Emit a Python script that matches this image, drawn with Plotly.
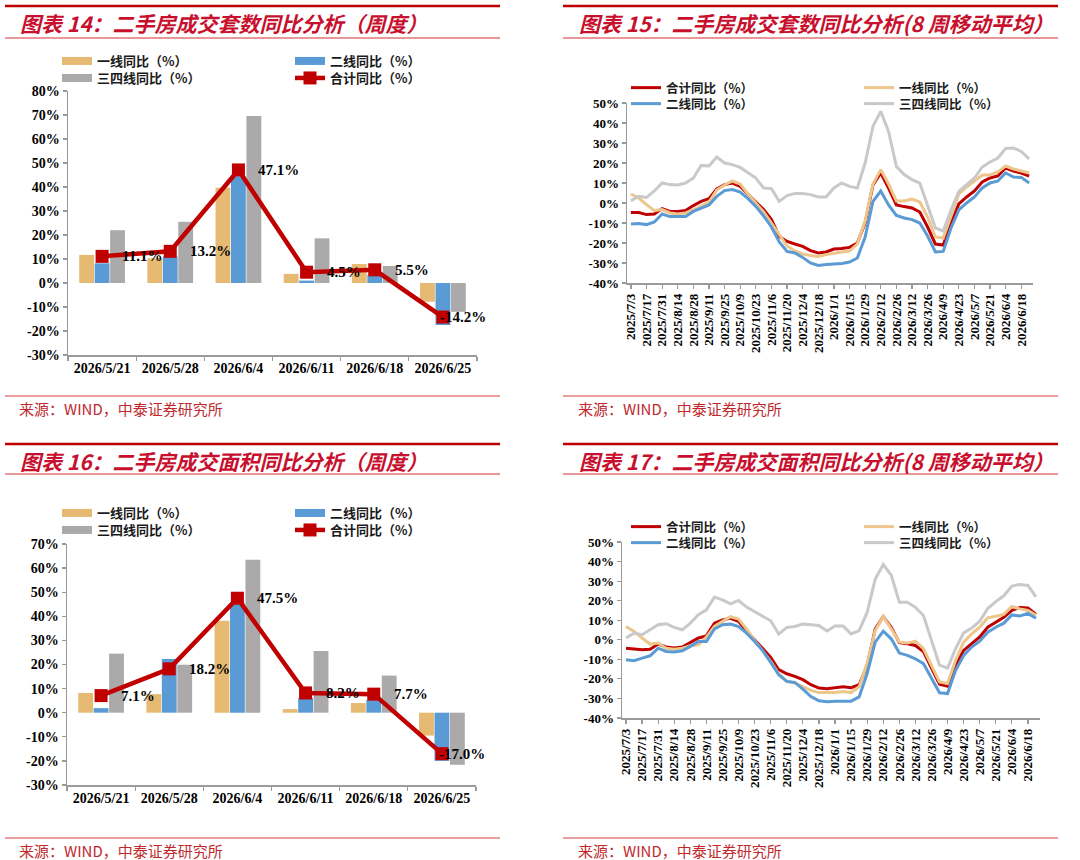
import plotly.graph_objects as go
import pandas as pd

W, H = 1080, 860

# ---------------- data ----------------
cats = ['2026/5/21', '2026/5/28', '2026/6/4', '2026/6/11', '2026/6/18', '2026/6/25']

# 图表14 二手房成交套数同比（周度）
p14_tier1 = [11.7, 10.3, 39.7, 3.8, 7.9, -7.8]
p14_tier2 = [8.2, 11.0, 44.5, 1.0, 3.3, -17.5]
p14_tier34 = [22.0, 25.5, 69.6, 18.6, 7.1, -12.0]
p14_total = [11.1, 13.2, 47.1, 4.5, 5.5, -14.2]

# 图表16 二手房成交面积同比（周度）
p16_tier1 = [8.2, 7.7, 38.2, 1.5, 4.0, -9.5]
p16_tier2 = [1.9, 22.3, 45.5, 6.1, 5.3, -20.0]
p16_tier34 = [24.5, 19.9, 63.5, 25.6, 15.4, -21.6]
p16_total = [7.1, 18.2, 47.5, 8.2, 7.7, -17.0]

weeks = [f"{d.year}/{d.month}/{d.day}" for d in pd.date_range('2025-07-03', periods=52, freq='7D')]
week_ticks = weeks[:51:2]

# 图表15 套数 8周移动平均
p15_total = [-4.7, -4.8, -5.8, -5.5, -2.8, -4.2, -4.2, -3.8, -1.3, 0.8,
             2.2, 7.0, 9.2, 10.0, 8.3, 4.2, 0.5, -3.3, -8.3, -16.7,
             -19.2, -20.5, -21.7, -23.8, -25.0, -24.5, -23.0, -22.8, -22.2, -20.0,
             -10.0, 9.0, 15.0, 7.5, -1.0, -1.8, -2.5, -4.5, -12.0, -20.5,
             -21.0, -10.0, -0.5, 3.0, 6.0, 10.5, 12.5, 13.5, 17.5, 16.0,
             15.0, 13.5]
p15_tier1 = [4.5, 2.5, -0.8, -3.8, -3.3, -5.0, -5.5, -5.0, -3.5, -1.7,
             0.5, 6.5, 9.0, 11.0, 9.5, 4.5, 0.0, -4.5, -10.0, -16.0,
             -21.5, -24.0, -25.5, -26.2, -26.7, -25.8, -25.0, -24.5, -24.0, -20.5,
             -9.0, 9.5, 16.7, 9.5, 1.0, 1.0, 2.0, 0.5, -7.0, -17.0,
             -17.5, -6.0, 4.5, 8.0, 11.0, 14.0, 14.0, 15.5, 18.5, 17.0,
             16.0, 15.0]
p15_tier2 = [-10.5, -10.3, -10.8, -9.5, -5.5, -6.8, -6.8, -6.7, -4.2, -2.5,
             -1.0, 3.3, 6.2, 6.7, 5.5, 2.2, -1.7, -6.5, -12.0, -19.5,
             -24.2, -25.0, -27.2, -30.0, -31.2, -30.8, -30.5, -30.2, -29.5, -27.5,
             -17.0, 0.8, 6.0, -1.0, -6.2, -7.5, -8.3, -10.0, -16.5, -24.5,
             -24.2, -12.5, -3.5, 0.0, 3.0, 7.5, 10.0, 11.0, 15.0, 13.0,
             12.8, 10.0]
p15_tier34 = [1.2, 3.3, 2.8, 6.0, 10.0, 9.2, 9.0, 10.0, 12.5, 18.8,
              18.5, 23.0, 20.0, 19.2, 17.8, 15.0, 12.5, 7.5, 7.2, 0.8,
              3.7, 4.7, 4.7, 4.2, 3.0, 3.0, 7.5, 10.0, 8.3, 7.5,
              20.0, 38.3, 45.8, 35.8, 18.3, 14.2, 11.7, 10.0, -1.5, -12.5,
              -14.0, -3.5, 5.8, 9.0, 12.5, 18.0, 20.5, 22.5, 27.3, 27.5,
              25.8, 22.0]

# 图表17 面积 8周移动平均
p17_total = [-4.3, -4.8, -5.1, -4.8, -2.2, -3.7, -4.2, -3.7, -1.4, 0.9,
             2.0, 8.5, 10.2, 11.0, 9.4, 4.3, 0.0, -4.3, -9.0, -15.3,
             -17.4, -18.7, -20.4, -23.0, -24.7, -25.0, -24.5, -24.0, -24.5, -23.0,
             -13.2, 5.5, 11.8, 6.4, -1.5, -2.0, -2.9, -6.0, -14.5, -22.7,
             -23.7, -13.0, -5.4, -2.0, 1.5, 6.4, 9.0, 11.5, 15.0, 16.5,
             16.3, 13.0]
p17_tier1 = [6.8, 4.3, 0.9, -2.2, -1.7, -4.3, -4.8, -4.3, -3.0, -2.6,
             1.4, 6.8, 9.4, 11.8, 10.6, 5.5, -0.3, -5.5, -11.0, -17.4,
             -21.3, -22.1, -24.2, -25.9, -27.0, -27.1, -27.0, -26.4, -27.0, -24.0,
             -12.0, 4.7, 11.8, 5.6, -1.2, -1.7, -0.7, -4.6, -13.0, -21.5,
             -22.4, -10.5, -1.2, 3.0, 6.4, 11.2, 12.0, 13.0, 17.0, 15.8,
             15.0, 12.5]
p17_tier2 = [-10.2, -10.7, -9.4, -8.2, -4.3, -6.0, -6.3, -5.6, -3.4, -0.9,
             -0.9, 5.5, 7.7, 8.0, 6.8, 3.4, -0.9, -5.5, -11.6, -17.9,
             -21.3, -21.8, -25.2, -29.0, -31.2, -31.7, -31.4, -31.5, -31.4, -29.2,
             -17.3, -1.2, 4.4, 0.5, -6.8, -8.0, -9.7, -12.2, -19.8, -27.1,
             -27.5, -15.6, -8.0, -3.7, -0.7, 3.9, 6.4, 8.5, 12.7, 12.2,
             13.5, 11.0]
p17_tier34 = [0.9, 3.4, 2.6, 5.1, 7.7, 8.2, 6.3, 5.1, 8.5, 12.8,
              15.3, 21.8, 20.4, 18.4, 20.1, 16.7, 14.5, 11.9, 9.7, 2.9,
              6.3, 6.8, 8.0, 7.7, 7.3, 4.5, 7.0, 7.0, 3.0, 4.7,
              14.0, 31.0, 38.5, 33.0, 19.2, 19.2, 16.6, 12.4, 0.0, -13.0,
              -14.5, -4.5, 3.5, 6.0, 9.5, 16.0, 19.5, 22.5, 27.5, 28.3,
              27.8, 22.0]

ticks_bar14 = [-30, -20, -10, 0, 10, 20, 30, 40, 50, 60, 70, 80]
ticks_bar16 = [-30, -20, -10, 0, 10, 20, 30, 40, 50, 60, 70]
ticks_line = [-40, -30, -20, -10, 0, 10, 20, 30, 40, 50]

names_bar = ['一线同比（%）', '二线同比（%）', '三四线同比（%）', '合计同比（%）']
titles = ['图表 14：二手房成交套数同比分析（周度）',
          '图表 15：二手房成交套数同比分析(8 周移动平均）',
          '图表 16：二手房成交面积同比分析（周度）',
          '图表 17：二手房成交面积同比分析(8 周移动平均）']
source = '来源：WIND，中泰证券研究所'

# ---------------- style ----------------
RED = '#C00000'
BAR_Y = '#E6BA72'
BAR_B = '#5B9BD5'
BAR_G = '#ABA9A9'
LN_Y = '#EDC68C'
LN_B = '#5B9BD5'
LN_G = '#C9C9C9'
AX = '#9A9A9A'
SERIF = 'Liberation Serif'
CJK = 'Noto Sans CJK SC'
COL1_W = 188   # legend entry width (px) of first column
COL2_W = 110   # legend entry width (px) of second column


def px(v):
    return v / W


def py(v):
    return 1 - v / H


fig = go.Figure()

# ---- bar panels ----
for (xa, ya, t1, t2, t34, tot, lg1, lg2) in [
        ('x', 'y', p14_tier1, p14_tier2, p14_tier34, p14_total, 'legend', 'legend2'),
        ('x3', 'y3', p16_tier1, p16_tier2, p16_tier34, p16_total, 'legend5', 'legend6')]:
    for vals, col in [(t1, BAR_Y), (t2, BAR_B), (t34, BAR_G)]:
        fig.add_trace(go.Bar(x=cats, y=vals, marker=dict(color=col, line=dict(width=0)),
                             xaxis=xa, yaxis=ya, showlegend=False, hoverinfo='skip'))
    fig.add_trace(go.Scatter(x=cats, y=tot, mode='lines+markers', name=names_bar[3],
                             line=dict(color=RED, width=4.5),
                             marker=dict(symbol='square', size=13, color=RED),
                             xaxis=xa, yaxis=ya, legend=lg2, legendrank=2, legendwidth=COL2_W,
                             hoverinfo='skip'))
    # legend proxies for bar series
    for nm, col, lg, rk, lw in [(names_bar[0], BAR_Y, lg1, 1, COL1_W), (names_bar[1], BAR_B, lg1, 2, COL2_W),
                                (names_bar[2], BAR_G, lg2, 1, COL1_W)]:
        fig.add_trace(go.Scatter(x=[None], y=[None], mode='lines', name=nm,
                                 line=dict(color=col, width=8), xaxis=xa, yaxis=ya,
                                 legend=lg, legendrank=rk, legendwidth=lw, hoverinfo='skip'))
    for i, (c, v) in enumerate(zip(cats, tot)):
        last = (i == len(cats) - 1)
        fig.add_annotation(x=c, y=v, xref=xa, yref=ya, text=f"{v:.1f}%",
                           showarrow=False, xanchor='left', yanchor='middle',
                           xshift=-5 if last else 18,
                           font=dict(family=SERIF, size=15, color='black', weight='bold'))

# ---- line panels ----
for (xa, ya, tot, t1, t2, t34, lg1, lg2) in [
        ('x2', 'y2', p15_total, p15_tier1, p15_tier2, p15_tier34, 'legend3', 'legend4'),
        ('x4', 'y4', p17_total, p17_tier1, p17_tier2, p17_tier34, 'legend7', 'legend8')]:
    for vals, col, nm, lg, lw in [(tot, RED, '合计同比（%）', lg1, COL1_W),
                                  (t1, LN_Y, '一线同比（%）', lg1, COL2_W),
                                  (t2, LN_B, '二线同比（%）', lg2, COL1_W),
                                  (t34, LN_G, '三四线同比（%）', lg2, COL2_W)]:
        fig.add_trace(go.Scatter(x=weeks, y=vals, mode='lines', name=nm,
                                 line=dict(color=col, width=3), legendwidth=lw,
                                 xaxis=xa, yaxis=ya, legend=lg, hoverinfo='skip'))

# ---------------- axes ----------------
tickfont = dict(family=SERIF, size=14, color='black', weight='bold')
tickfont_s = dict(family=SERIF, size=13, color='black', weight='bold')
common = dict(showline=True, linecolor=AX, linewidth=1.5, showgrid=False, zeroline=False,
              ticks='outside', tickcolor=AX, ticklen=4, tickwidth=1.2, fixedrange=True,
              automargin=False)

fig.update_layout(
    xaxis=dict(domain=[px(68), px(477)], anchor='y', type='category', range=[-0.5, 5.5],
               tickson='boundaries', tickangle=0, tickfont=tickfont, **common),
    yaxis=dict(domain=[py(355), py(91)], anchor='x', range=[-30, 80],
               tickvals=ticks_bar14, ticktext=[f"{v}%" for v in ticks_bar14],
               tickfont=tickfont, **common),
    xaxis3=dict(domain=[px(67), px(476)], anchor='y3', type='category', range=[-0.5, 5.5],
                tickson='boundaries', tickangle=0, tickfont=tickfont, **common),
    yaxis3=dict(domain=[py(785), py(544)], anchor='x3', range=[-30, 70],
                tickvals=ticks_bar16, ticktext=[f"{v}%" for v in ticks_bar16],
                tickfont=tickfont, **common),
    xaxis2=dict(domain=[px(627), px(1033)], anchor='y2', type='category', range=[-0.5, 51.5],
                tickvals=week_ticks, ticktext=week_ticks, tickangle=-90, tickfont=tickfont_s, **common),
    yaxis2=dict(domain=[py(283), py(103)], anchor='x2', range=[-40, 50],
                tickvals=ticks_line, ticktext=[f"{v}%" for v in ticks_line],
                tickfont=tickfont_s, **common),
    xaxis4=dict(domain=[px(622), px(1040)], anchor='y4', type='category', range=[-0.5, 51.5],
                tickvals=week_ticks, ticktext=week_ticks, tickangle=-90, tickfont=tickfont_s, **common),
    yaxis4=dict(domain=[py(718), py(542)], anchor='x4', range=[-40, 50],
                tickvals=ticks_line, ticktext=[f"{v}%" for v in ticks_line],
                tickfont=tickfont_s, **common),
)

# ---------------- legends ----------------
legfont = dict(family=CJK, size=13, color='#1a1a1a', weight='bold')
legfont_s = dict(family=CJK, size=12.5, color='#1a1a1a', weight='bold')


def leg(xpix, ypix, font):
    return dict(x=px(xpix), y=py(ypix), xref='paper', yref='paper', xanchor='left', yanchor='middle',
                orientation='h', entrywidthmode='pixels', bgcolor='rgba(0,0,0,0)',
                font=font, traceorder='normal', itemclick=False, itemdoubleclick=False,
                tracegroupgap=0)


fig.update_layout(
    legend=leg(57, 61, legfont), legend2=leg(57, 78, legfont),
    legend3=leg(626, 88, legfont_s), legend4=leg(626, 104, legfont_s),
    legend5=leg(57, 513, legfont), legend6=leg(57, 530, legfont),
    legend7=leg(626, 527, legfont_s), legend8=leg(626, 543, legfont_s),
)

# ---------------- titles / source / rules ----------------
panels = [
    dict(x0=5, x1=500, tx=18, top=6, title_y=23, sub=38, src_line=396, src_y=408),
    dict(x0=563, x1=1058, tx=577, top=6, title_y=23, sub=38, src_line=396, src_y=408),
    dict(x0=5, x1=500, tx=18, top=444, title_y=461, sub=474, src_line=838, src_y=850),
    dict(x0=563, x1=1058, tx=577, top=444, title_y=461, sub=474, src_line=838, src_y=850),
]
for k, p in enumerate(panels):
    fig.add_shape(type='line', xref='paper', yref='paper', x0=px(p['x0']), x1=px(p['x1']),
                  y0=py(p['top']), y1=py(p['top']), line=dict(color=RED, width=2.5))
    fig.add_shape(type='line', xref='paper', yref='paper', x0=px(p['x0']), x1=px(p['x1']),
                  y0=py(p['sub']), y1=py(p['sub']), line=dict(color='#D03030', width=1))
    fig.add_shape(type='line', xref='paper', yref='paper', x0=px(p['x0']), x1=px(p['x1']),
                  y0=py(p['src_line']), y1=py(p['src_line']), line=dict(color='#D84040', width=1.2))
    fig.add_annotation(xref='paper', yref='paper', x=px(p['tx']), y=py(p['title_y']),
                       xanchor='left', yanchor='middle', showarrow=False, text=titles[k],
                       font=dict(family=CJK, size=21, color='#C8102E', weight='bold', style='italic'))
    fig.add_annotation(xref='paper', yref='paper', x=px(p['tx'] - 1), y=py(p['src_y']),
                       xanchor='left', yanchor='middle', showarrow=False, text=source,
                       font=dict(family=CJK, size=15, color='#C0282D'))

fig.update_layout(
    width=W, height=H, autosize=False,
    margin=dict(l=0, r=0, t=0, b=0, autoexpand=False),
    paper_bgcolor='white', plot_bgcolor='white',
    barmode='group', bargap=0.32, bargroupgap=0.04,
    showlegend=True,
)

fig.write_html("out.html", config={'displayModeBar': False, 'staticPlot': True},
               post_script="document.body.style.margin='0';document.body.style.overflow='hidden';")
